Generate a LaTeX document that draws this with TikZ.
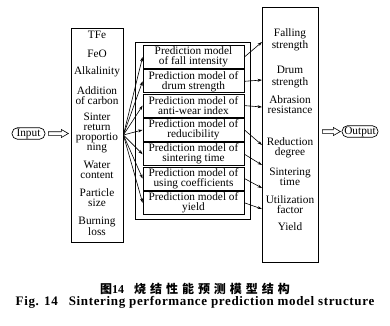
\documentclass[tikz,border=0pt]{standalone}
\usepackage{fontspec}
\setmainfont{Liberation Serif}
\newfontfamily\cjkfont[LetterSpace=33]{Noto Sans CJK SC}
\newfontfamily\capfont[LetterSpace=5]{Liberation Serif}
\usetikzlibrary{arrows.meta,calc}
\begin{document}
\begin{tikzpicture}[x=1pt,y=-1pt,
  txt/.style={font=\fontsize{11.3}{10}\selectfont, align=center, inner sep=0pt},
  model/.style={draw, line width=0.8pt, minimum width=101pt, minimum height=23pt, inner sep=0pt, align=center, font=\fontsize{11.3}{10}\selectfont},
  arr/.style={-{Stealth[length=4.5pt,width=3pt]}, line width=0.6pt},
  frame/.style={draw, line width=0.8pt, inner sep=0pt},
  term/.style={draw, line width=0.7pt, rounded corners=5.5pt, minimum height=11.5pt, inner sep=0pt, font=\fontsize{11.3}{10}\selectfont},
  hollow/.style={line width=0.6pt}]
\useasboundingbox (0,0) rectangle (390,325);
% frames
\node[frame, minimum width=52pt, minimum height=214pt] (lbox) at (97,135) {};
\node[frame, minimum width=115pt, minimum height=177pt] (mid) at (192.5,130.5) {};
\node[frame, minimum width=56pt, minimum height=255pt] (rbox) at (290,134.5) {};
% left labels
\node[txt] (l1) at (97,35) {TFe};
\node[txt] (l2) at (97,54) {FeO};
\node[txt] (l3) at (97,72) {Alkalinity};
\node[txt] (l4) at (97,95.5) {Addition\\of carbon};
\node[txt] (l5) at (97,133) {Sinter\\return\\proportio\\ning};
\node[txt] (l6) at (97,170) {Water\\content};
\node[txt] (l7) at (97,197.5) {Particle\\size};
\node[txt] (l8) at (97,226) {Burning\\loss};
% models
\node[model] (m1) at (193.5,57) {Prediction model\\of fall intensity};
\node[model] (m2) at (193.5,81.3) {Prediction model of\\drum strength};
\node[model] (m3) at (193.5,105.6) {Prediction model of\\anti-wear index};
\node[model] (m4) at (193.5,129.9) {Prediction model of\\reducibility};
\node[model] (m5) at (193.5,154.2) {Prediction model of\\sintering time};
\node[model] (m6) at (193.5,178.5) {Prediction model of\\using coefficients};
\node[model] (m7) at (193.5,202.8) {Prediction model of\\yield};
% right labels
\node[txt, font=\fontsize{11.3}{12.5}\selectfont] (r1) at (290,40) {Falling\\strength};
\node[txt, font=\fontsize{11.3}{11.5}\selectfont] (r2) at (290,77) {Drum\\strength};
\node[txt] (r3) at (290,105) {Abrasion\\resistance};
\node[txt] (r4) at (290,148) {Reduction\\degree};
\node[txt] (r5) at (290,177) {Sintering\\time};
\node[txt] (r6) at (290,205) {Utilization\\factor};
\node[txt] (r7) at (290,227) {Yield};
% arrow targets on right box
\coordinate (t1) at (262,42);
\coordinate (t2) at (262,80);
\coordinate (t3) at (262,107);
\coordinate (t4) at (262,145);
\coordinate (t5) at (262,165);
\coordinate (t6) at (262,188);
\coordinate (t7) at (262,209);
\foreach \i in {1,...,7} {
  \draw[arr] (lbox.east) -- (m\i.west);
  \draw[arr] (m\i.east) -- (t\i);
}
% input / output
\node[term, minimum width=33pt] (inp) at (28.5,133.5) {Input};
\node[term, minimum width=36pt] (outp) at (360,131.5) {Output};
\draw[hollow] ($(inp.east)+(3,-1.8)$) -- ++(13,0) -- ++(0,-2.2) -- ++(7,4) -- ++(-7,4) -- ++(0,-2.2) -- ++(-13,0) -- cycle;
\draw[hollow] ($(rbox.east |- outp.west)+(4,-1.8)$) -- ++(11,0) -- ++(0,-2.2) -- ++(7,4) -- ++(-7,4) -- ++(0,-2.2) -- ++(-11,0) -- cycle;
% captions
\node[inner sep=0pt, font=\cjkfont\bfseries\fontsize{12}{12}\selectfont] (c1) at (195,289) {图{\rmfamily\bfseries 14}\hspace{10pt}烧结性能预测模型结构};
\node[inner sep=0pt, font=\capfont\bfseries\fontsize{13}{13}\selectfont] (c2) at (195,302) {Fig. 14\hspace{11pt}Sintering performance prediction model structure};
\end{tikzpicture}
\end{document}
